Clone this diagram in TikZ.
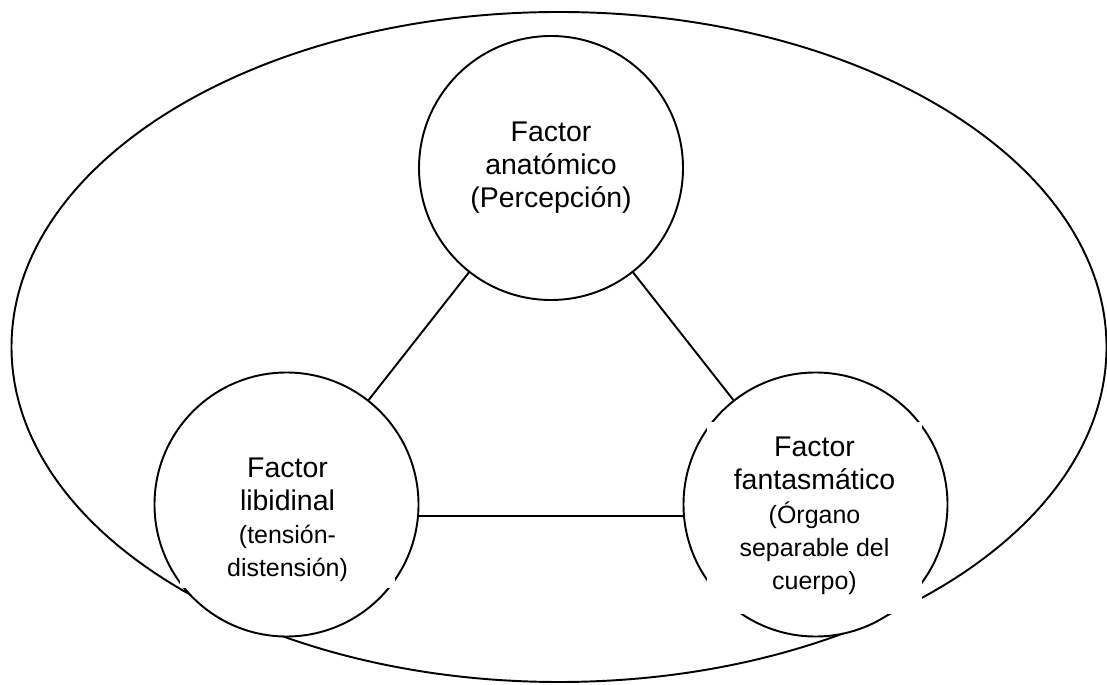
\documentclass[tikz,border=0pt]{standalone}
\usepackage{fontspec}
\setmainfont{Liberation Sans}
\usepackage{tikz}
\newcommand{\bigtxt}{\fontsize{16.2}{18.8}\selectfont}
\newcommand{\smalltxt}{\fontsize{14.2}{17.6}\selectfont}

\begin{document}
\begin{tikzpicture}[x=1cm,y=1cm,
    factor/.style={circle,draw,fill=white,line width=1.1pt,inner sep=0pt,outer sep=0pt,minimum size=5.28cm,align=center,font=\bigtxt},
    factortext/.style={fill=white,inner xsep=0pt,minimum width=4.3cm,align=center,font=\bigtxt},
    link/.style={line width=1.1pt}]
    \useasboundingbox (0,0) rectangle (22.14,13.68);
    % outer ellipse
    \draw[line width=1.1pt] (11.18,6.74) ellipse [x radius=10.95,y radius=6.70];
    % circles
    \node[factor] (anat) at (11.02,10.32) {Factor\\anatómico\\(Percepción)};
    \node[factor] (lib) at (5.73,3.59) {};
    \node[factor] (fan) at (16.31,3.59) {};
    % connectors
    \draw[link] (anat) -- (lib);
    \draw[link] (anat) -- (fan);
    \draw[link] (lib.-5) -- (fan.185);
    % texts
    \node[factortext,inner ysep=0.12cm,anchor=south] (libtxt) at (5.75,1.92) {Factor\\libidinal\\{\smalltxt (tensión-}\\{\smalltxt distensión)}};
    \node[factortext,inner ysep=0.3cm,anchor=north] (fantxt) at (16.29,5.24) {Factor\\fantasmático\\{\smalltxt (Órgano}\\{\smalltxt separable del}\\{\smalltxt cuerpo)}\rule[-0.2cm]{0pt}{0.2cm}};
\end{tikzpicture}
\end{document}
